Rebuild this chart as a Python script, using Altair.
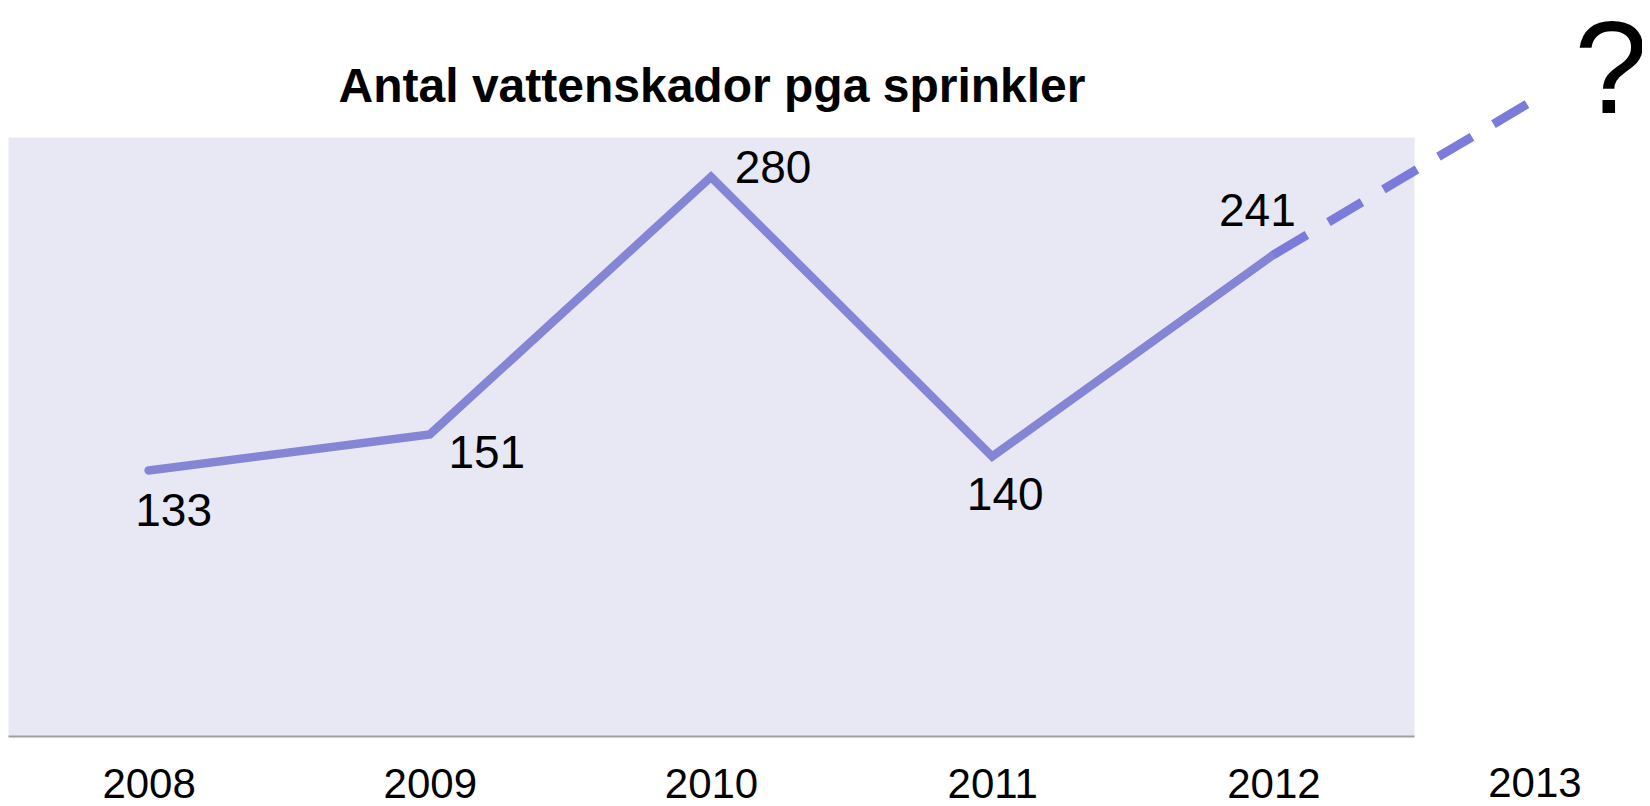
import altair as alt
import pandas as pd

# ---- data ----
years = [2008, 2009, 2010, 2011, 2012]
counts = [133, 151, 280, 140, 241]
forecast_years = [2012, 2012.92]
forecast_counts = [241, 318]
extra_year = [2012.93]
extra_label = ["2013"]
title_text = ["Antal vattenskador pga sprinkler"]
question = ["?"]

df = pd.DataFrame({"year": years, "count": counts})
fc = pd.DataFrame({"year": forecast_years, "count": forecast_counts})
ex = pd.DataFrame({"year": extra_year, "t": extra_label})

FONT = "Liberation Sans"
W, H = 1406, 599

xs = alt.Scale(domain=[2007.5, 2012.5], nice=False, zero=False)
ys = alt.Scale(domain=[0, 300], nice=False, zero=True)

x = alt.X(
    "year:Q",
    scale=xs,
    axis=alt.Axis(
        values=years, format="d", title=None, ticks=False, tickSize=0, grid=False,
        labelFontSize=42, labelFont=FONT, labelColor="black", labelPadding=61,
        labelBaseline="alphabetic", domainColor="#A0A0A0", domainWidth=2,
        labelFlush=False, labelOverlap=False,
    ),
)
y = alt.Y("count:Q", scale=ys, axis=None)

solid = alt.Chart(df).mark_line(
    color="#8585D6", strokeWidth=8.5, strokeCap="round", strokeJoin="miter"
).encode(x=x, y=y)

dashed = alt.Chart(fc).mark_line(
    color="#7B7BDC", strokeWidth=9, strokeDash=[39, 25], strokeCap="butt"
).encode(x=x, y=y)

# per-label offsets (style), in pixel
offsets = [(25, 56), (57, 33), (62, 6), (13, 54), (-16, -29)]
labels = []
for i, (dx, dy) in enumerate(offsets):
    labels.append(
        alt.Chart(df.iloc[[i]]).mark_text(
            dx=dx, dy=dy, fontSize=46, font=FONT, color="black",
            align="center", baseline="alphabetic",
        ).encode(x=x, y=y, text="count:Q")
    )

label2013 = alt.Chart(ex).mark_text(
    fontSize=42, font=FONT, color="black", align="center", baseline="alphabetic"
).encode(x=x, y=alt.value(660), text="t:N")

title = alt.Chart(pd.DataFrame({"t": title_text})).mark_text(
    fontSize=48, font=FONT, fontWeight="bold", color="black",
    align="center", baseline="alphabetic",
).encode(x=alt.value(704), y=alt.value(-35), text="t:N")

qmark = alt.Chart(pd.DataFrame({"t": question})).mark_text(
    fontSize=132, font=FONT, color="black", align="center", baseline="alphabetic"
).encode(x=alt.value(1603), y=alt.value(-24), text="t:N")

chart = alt.layer(solid, dashed, *labels, label2013, title, qmark).properties(
    width=W, height=H,
    padding={"left": 0, "top": 129, "right": 228, "bottom": 68},
    autosize=alt.AutoSizeParams(type="none"),
).configure_view(fill="#E8E8F5", stroke="transparent")

chart.save("out.html", embed_options={"renderer": "svg", "actions": False})
